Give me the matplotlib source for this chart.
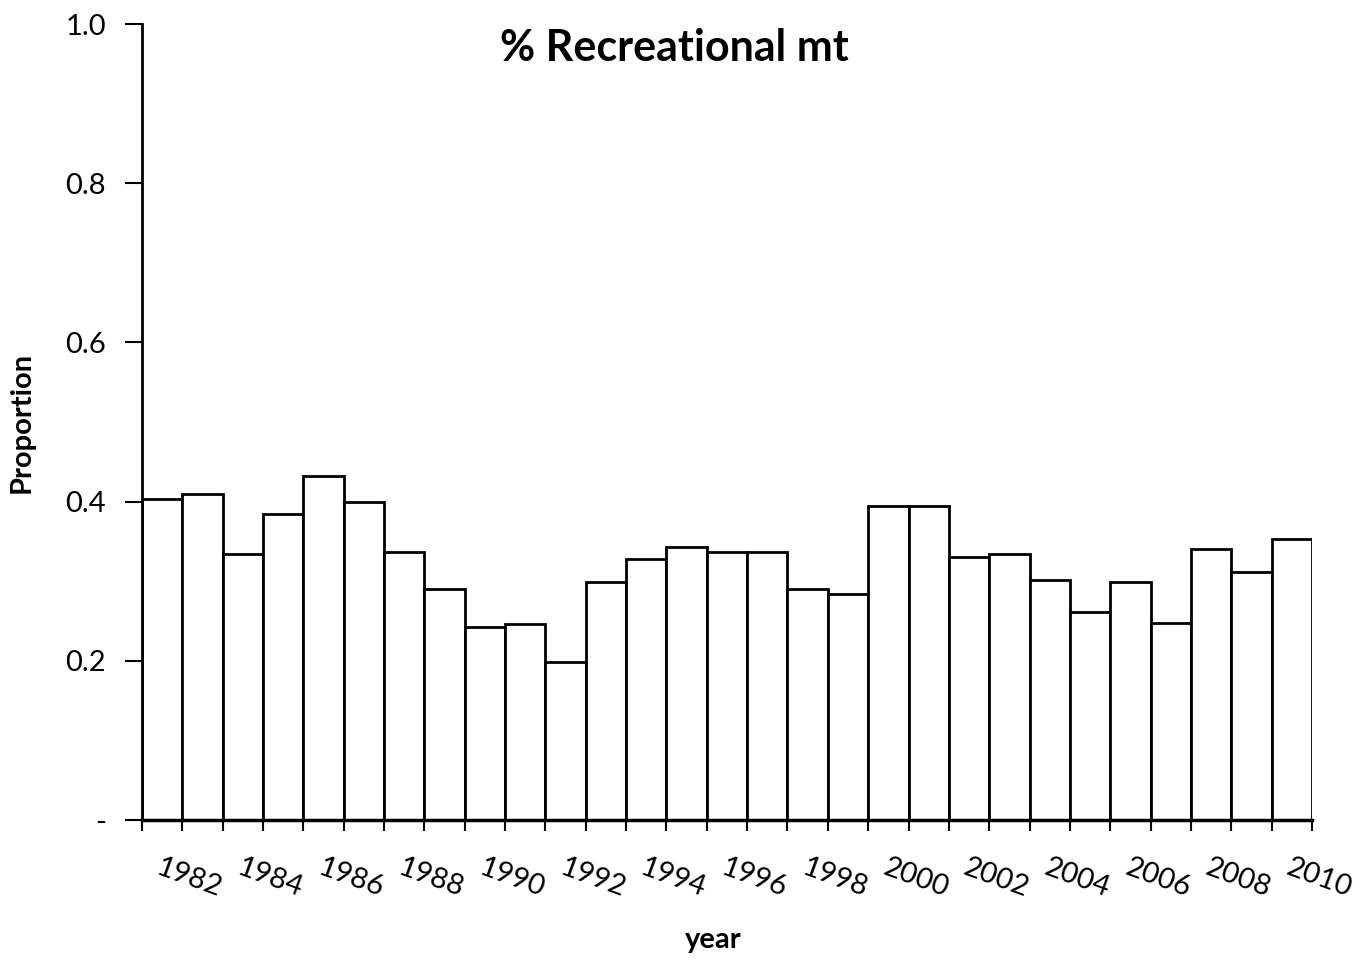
import matplotlib
matplotlib.use("Agg")
import matplotlib.pyplot as plt
import numpy as np

plt.rcParams['font.family'] = ['Lato', 'DejaVu Sans']

years = list(range(1982, 2011))
proportion = [0.403, 0.410, 0.334, 0.384, 0.432, 0.400, 0.337, 0.290, 0.242, 0.246,
              0.198, 0.299, 0.328, 0.343, 0.337, 0.337, 0.290, 0.284, 0.394, 0.394,
              0.331, 0.334, 0.302, 0.261, 0.299, 0.248, 0.340, 0.312, 0.353]
ytick_vals = [0.0, 0.2, 0.4, 0.6, 0.8, 1.0]
ytick_labels = ['-', '0.2', '0.4', '0.6', '0.8', '1.0']

fig = plt.figure(figsize=(13.61, 9.61), dpi=100)
ax = fig.add_axes([0.1043, 0.1467, 0.8597, 0.8283])

pos = np.arange(len(years))
ax.bar(pos, proportion, width=1.0, color='white', edgecolor='black', linewidth=2)

ax.set_xlim(-0.5, len(years) - 0.5)
ax.set_ylim(0, 1.0)
ax.set_yticks(ytick_vals)
ax.set_yticklabels(ytick_labels, fontsize=21)

# ticks at category boundaries, labels every other year
ax.set_xticks(np.arange(len(years) + 1) - 0.5)
ax.set_xticklabels([])
ax.tick_params(axis='x', direction='out', length=8, width=1.5)
ax.tick_params(axis='y', direction='out', length=12, width=1.5, pad=14)

for i, yr in enumerate(years):
    if yr % 2 == 0:
        ax.text(i, -0.043, str(yr), rotation=-20, rotation_mode='anchor',
                ha='left', va='top', fontsize=21)

for s in ['top', 'right']:
    ax.spines[s].set_visible(False)
ax.spines['left'].set_linewidth(2)
ax.spines['bottom'].set_linewidth(2.5)

ax.set_ylabel('Proportion', fontsize=21, fontweight='bold', labelpad=22)
ax.set_xlabel('year', fontsize=21, fontweight='bold')
ax.xaxis.set_label_coords(0.488, -0.135)
ax.text(0.455, 0.995, '% Recreational mt', transform=ax.transAxes, ha='center', va='top',
        fontsize=31, fontweight='bold')

fig.savefig('out.png', dpi=100)
